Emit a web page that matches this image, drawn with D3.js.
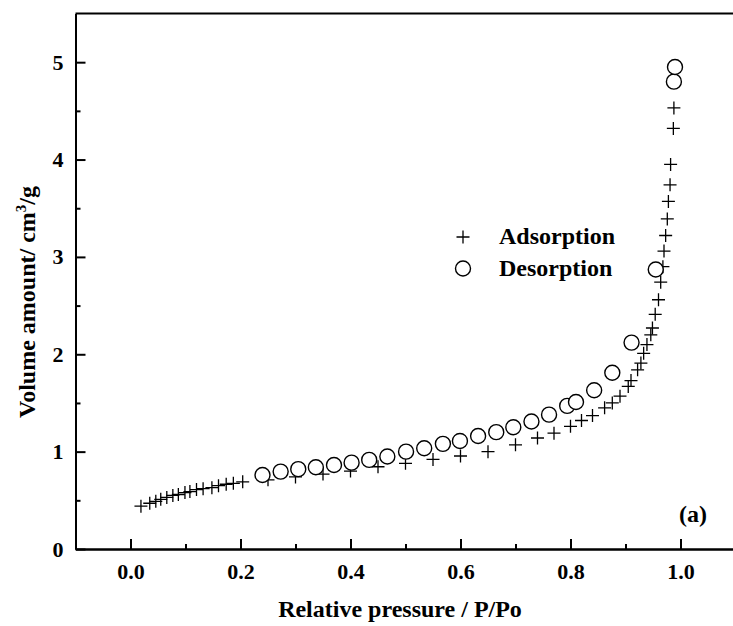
<!DOCTYPE html>
<html>
<head>
<meta charset="utf-8">
<script src="https://cdn.jsdelivr.net/npm/d3@7"></script>
<style>
    body { margin: 0; background: #fff; }
    svg { display: block; font-family: "Liberation Serif", "Times New Roman", serif; font-weight: bold; }
    .axis path, .axis line { stroke: #000; stroke-width: 2px; }
    .axis text { font-size: 22px; font-weight: bold; fill: #000; font-family: "Liberation Serif", serif; }
    .plus { stroke: #000; stroke-width: 1.3px; fill: none; }
    .ring { stroke: #000; stroke-width: 1.4px; fill: #fff; }
</style>
</head>
<body>
<div id="chart"></div>
<script>
// relative pressure P/Po and volume (cm3/g)
const adsorptionP = [0.019, 0.035, 0.046, 0.055, 0.066, 0.077, 0.087, 0.099, 0.108, 0.12, 0.132, 0.148, 0.16, 0.174, 0.187, 0.204,
    0.25, 0.30, 0.35, 0.40, 0.45, 0.50, 0.55, 0.60, 0.65, 0.70, 0.74, 0.77, 0.80, 0.82, 0.84, 0.862, 0.876, 0.89, 0.905, 0.91,
    0.922, 0.928, 0.933, 0.939, 0.946, 0.949, 0.954, 0.960, 0.964, 0.968, 0.970, 0.973, 0.976, 0.978, 0.981, 0.982, 0.987, 0.988];
const adsorptionV = [0.44, 0.47, 0.49, 0.51, 0.53, 0.55, 0.56, 0.58, 0.59, 0.61, 0.62, 0.63, 0.65, 0.665, 0.675, 0.69,
    0.71, 0.74, 0.77, 0.80, 0.845, 0.88, 0.92, 0.955, 1.0, 1.07, 1.14, 1.19, 1.26, 1.32, 1.37, 1.45, 1.50, 1.57, 1.67, 1.73,
    1.84, 1.91, 2.01, 2.10, 2.20, 2.27, 2.41, 2.56, 2.74, 2.90, 3.06, 3.22, 3.39, 3.57, 3.74, 3.95, 4.32, 4.53];

const desorptionP = [0.24, 0.273, 0.305, 0.337, 0.37, 0.402, 0.434, 0.467, 0.501, 0.534, 0.568, 0.599, 0.632, 0.665, 0.696,
    0.729, 0.761, 0.794, 0.81, 0.843, 0.876, 0.911, 0.955, 0.988, 0.99];
const desorptionV = [0.76, 0.795, 0.82, 0.84, 0.863, 0.887, 0.915, 0.95, 1.0, 1.035, 1.08, 1.11, 1.16, 1.2, 1.25,
    1.31, 1.38, 1.47, 1.51, 1.63, 1.81, 2.12, 2.87, 4.80, 4.95];

const xTicks = [0, 0.2, 0.4, 0.6, 0.8, 1.0];
const xMinorTicks = [0.1, 0.3, 0.5, 0.7, 0.9];
const yTicks = [0, 1, 2, 3, 4, 5];
const yMinorTicks = [0.5, 1.5, 2.5, 3.5, 4.5];

const setting = { width: 733, height: 626, left: 75.5, right: 735.5, top: 13.5, bottom: 549 };

class IsothermChart {
    constructor(opts) {
        this.svg = opts.element.append('svg')
            .attr('width', setting.width)
            .attr('height', setting.height);
        this.draw();
    }

    draw() {
        this.createScales();
        this.addAxes();
        this.createPoints();
        this.addLegend();
        this.addTitles();
    }

    createScales() {
        this.xScale = d3.scaleLinear().domain([-0.1, 1.1]).range([setting.left, setting.right]);
        this.yScale = d3.scaleLinear().domain([0, 5.5]).range([setting.bottom, setting.top]);
    }

    addAxes() {
        const fmtX = d3.format('.1f');
        const xAxis = d3.axisBottom(this.xScale).tickValues(xTicks).tickFormat(fmtX)
            .tickSizeInner(-10).tickSizeOuter(0).tickPadding(14);
        const xMinor = d3.axisBottom(this.xScale).tickValues(xMinorTicks).tickFormat('')
            .tickSizeInner(-5).tickSizeOuter(0);
        const yAxis = d3.axisLeft(this.yScale).tickValues(yTicks).tickFormat(d3.format('d'))
            .tickSizeInner(-10).tickSizeOuter(0).tickPadding(12);
        const yMinor = d3.axisLeft(this.yScale).tickValues(yMinorTicks).tickFormat('')
            .tickSizeInner(-5).tickSizeOuter(0);

        const gx = this.svg.append('g').attr('class', 'x axis')
            .attr('transform', 'translate(0,' + setting.bottom + ')');
        gx.call(xAxis);
        gx.append('g').call(xMinor);

        const gy = this.svg.append('g').attr('class', 'y axis')
            .attr('transform', 'translate(' + setting.left + ',0)');
        gy.call(yAxis);
        gy.append('g').call(yMinor);

        // top and right frame
        this.svg.append('path')
            .attr('d', 'M' + setting.left + ',' + setting.top + 'H' + setting.right + 'V' + setting.bottom)
            .attr('fill', 'none')
            .attr('stroke', '#000')
            .attr('stroke-width', 2);
    }

    createPoints() {
        const ads = adsorptionP.map((p, i) => ({ p: p, v: adsorptionV[i] }));
        const des = desorptionP.map((p, i) => ({ p: p, v: desorptionV[i] }));
        const s = 6.5;

        this.svg.append('g').attr('class', 'adsorption')
            .selectAll('path')
            .data(ads)
            .enter()
            .append('path')
            .attr('class', 'plus')
            .attr('d', 'M' + (-s) + ',0H' + s + 'M0,' + (-s) + 'V' + s)
            .attr('transform', d => 'translate(' + this.xScale(d.p) + ',' + this.yScale(d.v) + ')');

        this.svg.append('g').attr('class', 'desorption')
            .selectAll('circle')
            .data(des)
            .enter()
            .append('circle')
            .attr('class', 'ring')
            .attr('r', 7.5)
            .attr('cx', d => this.xScale(d.p))
            .attr('cy', d => this.yScale(d.v));
    }

    addLegend() {
        const lg = this.svg.append('g').attr('class', 'legend');
        const s = 6.5;
        lg.append('path').attr('class', 'plus')
            .attr('d', 'M' + (-s) + ',0H' + s + 'M0,' + (-s) + 'V' + s)
            .attr('transform', 'translate(463,237)');
        lg.append('circle').attr('class', 'ring').attr('r', 7.5)
            .attr('cx', 463).attr('cy', 268.5);
        lg.append('text').attr('x', 499).attr('y', 244).attr('font-size', 24).text('Adsorption');
        lg.append('text').attr('x', 499).attr('y', 275.5).attr('font-size', 24).text('Desorption');
    }

    addTitles() {
        this.svg.append('text')
            .attr('x', 679).attr('y', 521.5)
            .attr('font-size', 24)
            .text('(a)');

        this.svg.append('text')
            .attr('x', 400).attr('y', 617)
            .attr('text-anchor', 'middle')
            .attr('font-size', 24)
            .text('Relative pressure / P/Po');

        const yt = this.svg.append('text')
            .attr('transform', 'translate(35,302) rotate(-90)')
            .attr('text-anchor', 'middle')
            .attr('font-size', 24);
        yt.append('tspan').text('Volume amount/ cm');
        yt.append('tspan').attr('dy', -9).attr('font-size', 15).text('3');
        yt.append('tspan').attr('dy', 9).text('/g');
    }
}

new IsothermChart({ element: d3.select('#chart') });
</script>
</body>
</html>
